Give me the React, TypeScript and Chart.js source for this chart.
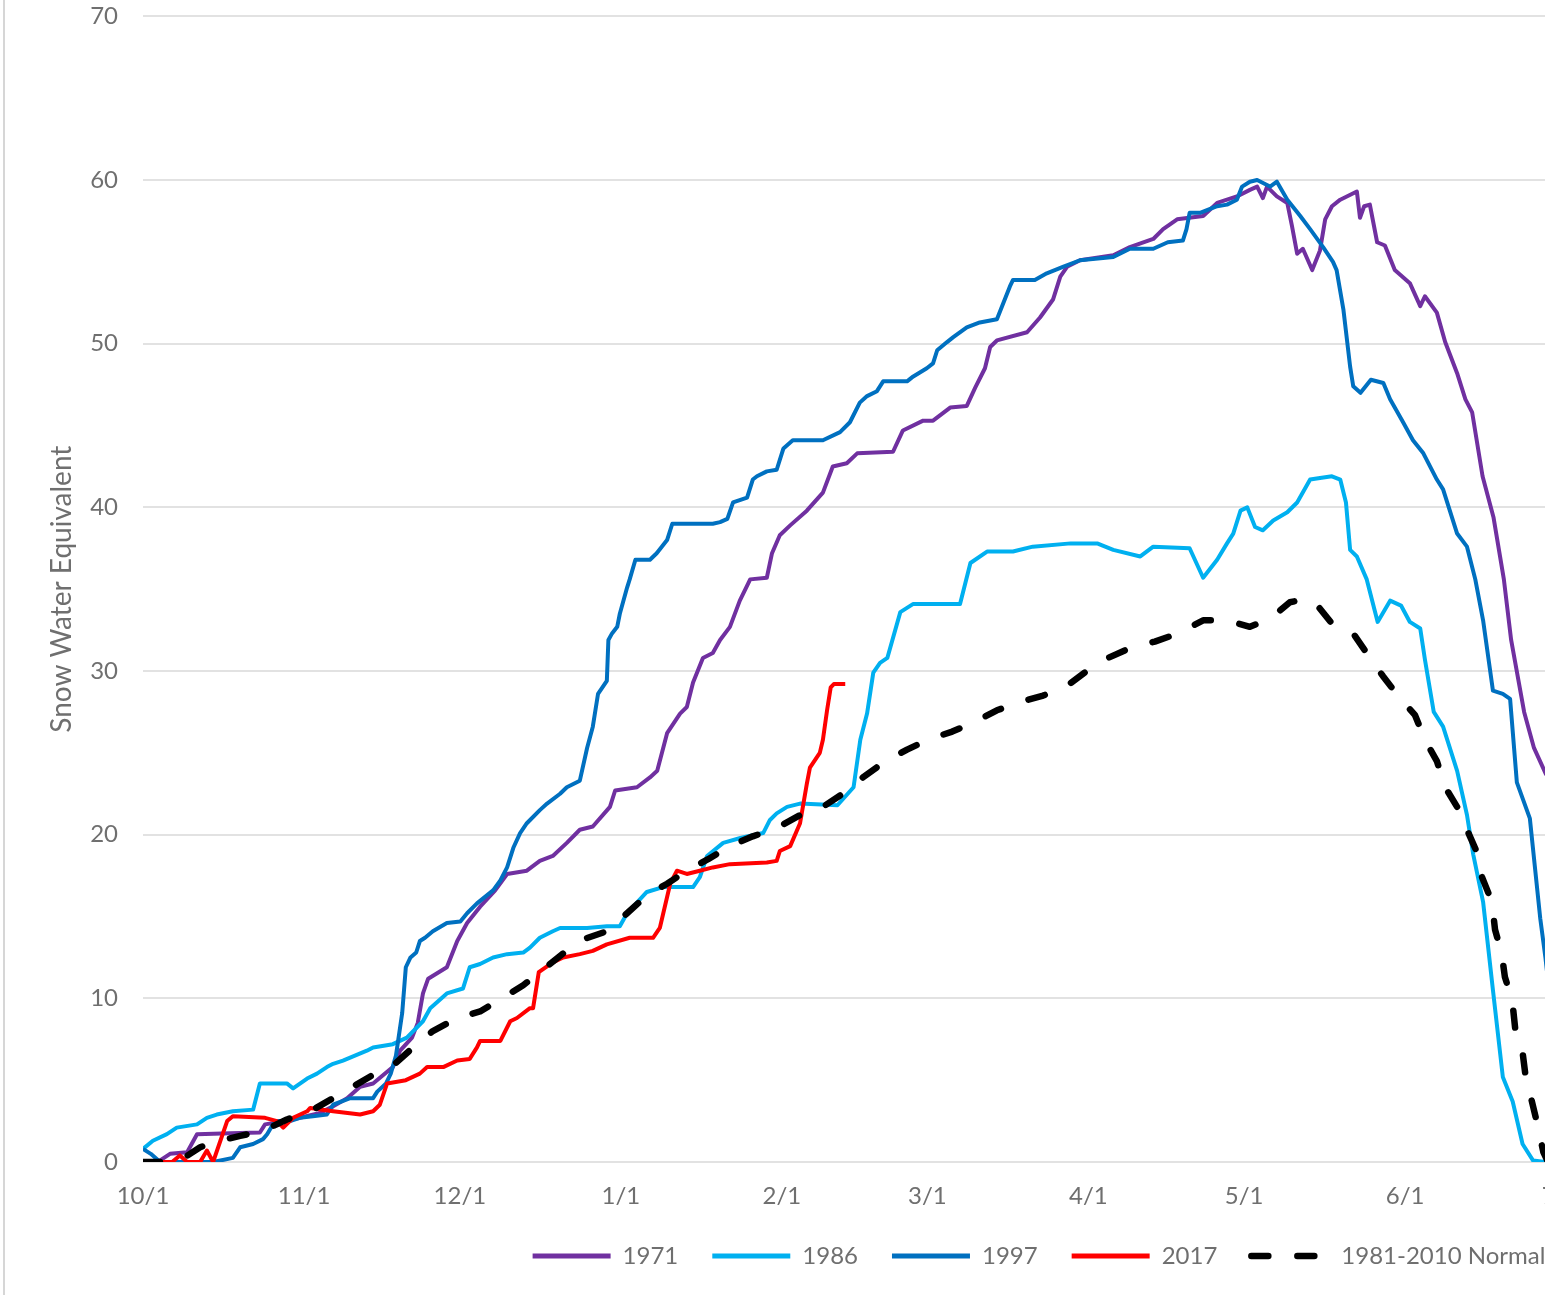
import React, { useEffect, useRef } from 'react';
import { Chart, registerables } from 'chart.js';

Chart.register(...registerables);

// x values are days since Oct 1
const monthStartDays = [0, 31, 61, 92, 123, 151, 182, 212, 243, 273];
const monthLabels = ['10/1', '11/1', '12/1', '1/1', '2/1', '3/1', '4/1', '5/1', '6/1', '7/1'];

const seriesLabels = ['1971', '1986', '1997', '2017', '1981-2010 Normal'];
const seriesColors = ['#7030A0', '#00B0F0', '#0070C0', '#FF0000', '#000000'];

const days1971 = [0, 3.3, 5.2, 8.5, 10.4, 16.8, 22.5, 23.5, 27.3, 30.2, 34.1, 36.6, 39.3, 41.8, 44.3, 48.1, 49.5, 51.8, 52.9, 53.9, 54.9, 58.5, 60.5, 62.4, 64.9, 67.8, 70.1, 73.9, 76.4, 78.9, 81.6, 84.1, 86.6, 89.9, 90.9, 95.1, 97.6, 99, 100.9, 103.4, 104.7, 105.9, 107.8, 109.7, 111.1, 113, 114.9, 116.9, 120.1, 121.1, 122.6, 124.6, 127.8, 130.9, 132.8, 135.5, 137.5, 144.4, 146.3, 150.2, 152.1, 155.4, 158.6, 160.2, 162.1, 163.1, 164.4, 170.2, 172.7, 175.2, 176.6, 177.9, 180.4, 186.8, 190, 194.5, 196.4, 199.1, 204.1, 206.8, 210.6, 213.1, 214.5, 215.6, 216.4, 218.3, 220.3, 221.2, 222.2, 223.3, 225.1, 226.6, 227.6, 228.9, 230.5, 233.7, 234.3, 235.1, 236.2, 237.6, 239.1, 241, 243.9, 245.9, 246.8, 249.1, 250.7, 253, 254.6, 255.9, 257.9, 260, 262, 263.4, 265.9, 267.8, 270.1, 273];
const swe1971 = [0, 0.1, 0.5, 0.6, 1.7, 1.75, 1.8, 2.3, 2.5, 2.7, 3.0, 3.4, 3.9, 4.6, 4.8, 5.8, 6.8, 7.6, 8.5, 10.3, 11.2, 11.9, 13.5, 14.6, 15.6, 16.6, 17.6, 17.8, 18.4, 18.7, 19.5, 20.3, 20.5, 21.7, 22.7, 22.9, 23.5, 23.9, 26.2, 27.4, 27.8, 29.3, 30.8, 31.1, 31.9, 32.7, 34.3, 35.6, 35.7, 37.2, 38.3, 38.9, 39.8, 40.9, 42.5, 42.7, 43.3, 43.4, 44.7, 45.3, 45.3, 46.1, 46.2, 47.3, 48.5, 49.8, 50.2, 50.7, 51.6, 52.7, 54.1, 54.7, 55.1, 55.4, 55.9, 56.4, 57.0, 57.6, 57.8, 58.6, 59.0, 59.4, 59.6, 58.9, 59.6, 59.0, 58.6, 57.2, 55.5, 55.8, 54.5, 55.7, 57.6, 58.4, 58.8, 59.3, 57.7, 58.4, 58.5, 56.2, 56.0, 54.5, 53.7, 52.3, 52.9, 51.9, 50.1, 48.2, 46.6, 45.8, 41.9, 39.4, 35.6, 31.9, 27.5, 25.3, 23.7, 22.5];

const days1986 = [0, 1.9, 4.6, 6.5, 10.4, 12.3, 14.2, 17.3, 21.2, 22.5, 27.7, 28.9, 31.6, 33.5, 35.4, 36.6, 38.5, 43.1, 44.3, 48.1, 50.8, 53.9, 55.3, 58.5, 61.6, 62.9, 64.9, 67.4, 70.1, 73.2, 74.5, 76.4, 78.9, 80.3, 85.5, 89.3, 91.8, 93.2, 97, 100.1, 105.9, 107.2, 108.6, 111.7, 115, 119.4, 120.7, 122, 124, 126.5, 133.7, 136.8, 138.1, 139.4, 140.6, 141.9, 143.3, 145.8, 148.3, 157.3, 159.3, 162.5, 167.5, 171.3, 178.6, 183.7, 186.8, 192, 194.5, 201.5, 204.1, 206.8, 208.7, 209.9, 211.3, 212.6, 214.1, 215.6, 217.6, 220.3, 222.2, 224.7, 226.6, 228.9, 230.5, 231.6, 232.4, 233.7, 235.6, 237.7, 240.1, 242.2, 243.9, 245.9, 246.8, 248.5, 250.3, 253, 254.9, 256.1, 258, 259.9, 261.8, 263.7, 265.6, 267.6, 270, 273];
const swe1986 = [0.8, 1.3, 1.7, 2.1, 2.3, 2.7, 2.9, 3.1, 3.2, 4.8, 4.8, 4.5, 5.1, 5.4, 5.8, 6.0, 6.2, 6.8, 7.0, 7.2, 7.6, 8.6, 9.4, 10.3, 10.6, 11.9, 12.1, 12.5, 12.7, 12.8, 13.1, 13.7, 14.1, 14.3, 14.3, 14.4, 14.4, 15.2, 16.5, 16.8, 16.8, 17.4, 18.7, 19.5, 19.8, 20.1, 20.9, 21.3, 21.7, 21.9, 21.8, 22.9, 25.8, 27.4, 29.9, 30.5, 30.8, 33.6, 34.1, 34.1, 36.6, 37.3, 37.3, 37.6, 37.8, 37.8, 37.4, 37.0, 37.6, 37.5, 35.7, 36.8, 37.8, 38.4, 39.8, 40.0, 38.8, 38.6, 39.2, 39.7, 40.3, 41.7, 41.8, 41.9, 41.7, 40.3, 37.4, 37.0, 35.6, 33.0, 34.3, 34.0, 33.0, 32.6, 30.7, 27.5, 26.6, 23.9, 21.2, 18.8, 15.9, 10.5, 5.2, 3.7, 1.1, 0.1, 0, 0];

const days1997 = [0, 1.5, 3.3, 13.5, 17.3, 18.7, 21.2, 23.1, 23.9, 25.4, 28.3, 30.2, 32.7, 35.4, 36.6, 39.9, 44.3, 45.1, 46.8, 47.7, 48.7, 49.9, 50.6, 51.5, 52.6, 53.3, 54.3, 55.8, 58.5, 61.1, 62.4, 64.3, 67.4, 68.8, 70.1, 71.3, 72.6, 73.9, 76.4, 77.8, 80.3, 81.6, 84.1, 85.5, 86.6, 87.6, 89.3, 89.6, 90.3, 91.3, 91.8, 93.2, 93.7, 94.8, 97.6, 98.9, 100.9, 101.9, 109.7, 111.1, 112.5, 113.6, 116.3, 117.4, 118.2, 120.1, 122, 123.3, 125.1, 130.9, 134.2, 136.1, 138, 139.4, 141.3, 142.5, 147.1, 148.3, 150.9, 152.1, 152.9, 154.8, 156, 158.6, 161.1, 164.4, 166.9, 167.5, 171.7, 174, 177.1, 180.4, 186.8, 190, 194.5, 197.3, 200.2, 200.9, 201.5, 203.5, 206.8, 208.7, 210.6, 211.6, 213.1, 214.5, 216.4, 217, 218.3, 220.3, 222.8, 224.7, 227.2, 229.1, 229.8, 231.1, 232.4, 233, 234.4, 236.4, 238.8, 240.1, 242.6, 244.5, 246.5, 249.1, 250.3, 253, 254.9, 256.5, 258, 259.9, 261.8, 263.2, 264.5, 267, 269, 270, 273];
const swe1997 = [0.8, 0.5, 0, 0, 0.25, 0.9, 1.1, 1.4, 1.7, 2.5, 2.5, 2.7, 2.8, 2.9, 3.5, 3.9, 3.9, 4.3, 4.8, 5.4, 6.5, 9.1, 11.9, 12.5, 12.8, 13.5, 13.7, 14.1, 14.6, 14.7, 15.2, 15.8, 16.6, 17.2, 18.0, 19.2, 20.1, 20.7, 21.5, 21.9, 22.5, 22.9, 23.3, 25.3, 26.6, 28.6, 29.4, 31.9, 32.3, 32.7, 33.5, 35.1, 35.6, 36.8, 36.8, 37.2, 38.0, 39.0, 39.0, 39.1, 39.3, 40.3, 40.6, 41.7, 41.9, 42.2, 42.3, 43.6, 44.1, 44.1, 44.6, 45.2, 46.4, 46.8, 47.1, 47.7, 47.7, 48.0, 48.5, 48.8, 49.6, 50.1, 50.4, 51.0, 51.3, 51.5, 53.5, 53.9, 53.9, 54.3, 54.7, 55.1, 55.3, 55.8, 55.8, 56.2, 56.3, 57.0, 58.0, 58.0, 58.4, 58.5, 58.8, 59.6, 59.9, 60.0, 59.7, 59.6, 59.9, 58.8, 57.8, 57.0, 55.9, 55.0, 54.5, 52.1, 48.6, 47.4, 47.0, 47.8, 47.6, 46.6, 45.2, 44.1, 43.3, 41.7, 41.1, 38.4, 37.6, 35.6, 33.1, 28.8, 28.6, 28.3, 23.2, 21.0, 14.9, 12.5, 4.0];

const days2017 = [0, 5.6, 7.1, 8.5, 11, 12.3, 13.5, 16.2, 17.3, 23.5, 25.8, 27, 28.9, 31.6, 32.2, 36.6, 41.8, 44.3, 45.6, 47, 50.6, 53.3, 54.7, 57.8, 60.5, 62.9, 64.3, 64.9, 68.8, 70.7, 72, 74.5, 75.1, 76.2, 78.9, 80.9, 84.1, 86.6, 89.3, 93.7, 98.2, 99.5, 101.5, 102.8, 104.7, 107.2, 109.7, 113, 120.1, 122, 122.6, 124.6, 126.5, 127.8, 128.4, 130.3, 130.9, 131.7, 132.4, 133, 135.2];
const swe2017 = [0, 0, 0.4, 0, 0, 0.7, 0, 2.5, 2.8, 2.7, 2.5, 2.1, 2.7, 3.1, 3.3, 3.1, 2.9, 3.1, 3.5, 4.8, 5.0, 5.4, 5.8, 5.8, 6.2, 6.3, 7.0, 7.4, 7.4, 8.6, 8.8, 9.4, 9.4, 11.6, 12.2, 12.5, 12.7, 12.9, 13.3, 13.7, 13.7, 14.3, 17.0, 17.8, 17.6, 17.8, 18.0, 18.2, 18.3, 18.4, 19.0, 19.3, 20.7, 23.1, 24.1, 25.0, 25.8, 27.6, 29.0, 29.2, 29.2];

const daysNormal = [0, 5.2, 8.1, 11, 13.5, 18.7, 23.1, 27.7, 32.2, 36.6, 40.4, 44.7, 48.5, 52, 55.8, 60.5, 64.9, 69.1, 73.2, 76.8, 80.7, 84.7, 89.3, 93.2, 97, 100.9, 104.7, 108.8, 113, 117.4, 122, 126.5, 130.9, 135.2, 138.6, 142.5, 147.1, 151.1, 155.8, 160.2, 164.4, 168.8, 173.3, 177.9, 181.7, 185.8, 190, 194.8, 199.3, 204.1, 208.7, 213.1, 217, 220.8, 223.7, 225.6, 228.9, 233, 235.8, 238.7, 241.6, 244.9, 246.8, 249.1, 250.7, 253, 254.9, 257, 257.8, 259.7, 260.3, 261.6, 262.2, 263.6, 264.2, 265.6, 266.2, 267.4, 268.6, 269.6, 270.5];
const sweNormal = [0, 0, 0.3, 0.9, 1.2, 1.6, 1.9, 2.6, 3.1, 3.9, 4.6, 5.4, 6.0, 7.0, 8.0, 8.8, 9.2, 10.0, 10.8, 11.7, 12.7, 13.6, 14.1, 15.2, 16.3, 17.0, 17.8, 18.5, 19.3, 19.9, 20.4, 21.2, 21.7, 22.6, 23.5, 24.4, 25.2, 25.8, 26.3, 26.9, 27.6, 28.1, 28.5, 29.1, 30.0, 30.8, 31.4, 31.8, 32.3, 33.1, 33.1, 32.7, 33.2, 34.2, 34.4, 34.2, 32.9, 32.3, 31.0, 29.7, 28.5, 27.3, 25.8, 24.5, 22.9, 21.7, 20.3, 18.8, 17.4, 15.9, 14.2, 12.7, 11.3, 9.9, 8.1, 6.7, 5.2, 3.7, 2.1, 0.6, 0];

const seriesDays = [days1971, days1986, days1997, days2017, daysNormal];
const seriesValues = [swe1971, swe1986, swe1997, swe2017, sweNormal];

const FONT = 'Lato, "Open Sans", sans-serif';
const TEXT = '#6f6f6f';
const GRID = '#e2e2e2';

export default function App() {
  const ref = useRef<HTMLCanvasElement | null>(null);

  useEffect(() => {
    const canvas = ref.current;
    if (!canvas) return;
    const datasets = seriesLabels.map((label, i) => {
      const isNormal = i === 4;
      return {
        label,
        data: seriesDays[i].map((d, k) => ({ x: d, y: seriesValues[i][k] })),
        borderColor: seriesColors[i],
        backgroundColor: seriesColors[i],
        borderWidth: isNormal ? 6.5 : 4,
        borderDash: isNormal ? [17, 29] : undefined,
        borderCapStyle: isNormal ? 'round' : 'butt',
        borderJoinStyle: 'round',
        pointRadius: 0,
        tension: 0,
        fill: false,
        order: 4 - i,
      };
    });

    const chart = new Chart(canvas, {
      type: 'line',
      data: { datasets: datasets as any },
      options: {
        animation: false,
        responsive: false,
        events: [],
        layout: { padding: { top: 17, left: 0, right: 0, bottom: 0 } },
        scales: {
          x: {
            type: 'linear',
            min: 0,
            max: 273,
            grid: { display: false, drawTicks: false },
            border: { display: false },
            afterBuildTicks: (s: any) => {
              s.ticks = monthStartDays.map((v) => ({ value: v }));
            },
            afterFit: (s: any) => {
              s.height = 48;
            },
            ticks: {
              autoSkip: false,
              maxRotation: 0,
              minRotation: 0,
              padding: 20,
              color: TEXT,
              font: { family: FONT, size: 24 },
              callback: (v: any) => {
                const idx = monthStartDays.indexOf(Number(v));
                return idx >= 0 ? monthLabels[idx] : '';
              },
            },
          },
          y: {
            type: 'linear',
            position: 'left',
            min: 0,
            max: 70,
            grid: { color: GRID, lineWidth: 2, drawTicks: false },
            border: { display: false },
            afterFit: (s: any) => {
              s.width = 143;
            },
            ticks: {
              stepSize: 10,
              padding: 25,
              color: TEXT,
              font: { family: FONT, size: 24 },
            },
            title: {
              display: true,
              text: 'Snow Water Equivalent',
              color: TEXT,
              font: { family: FONT, size: 28 },
              padding: { top: 45, bottom: 0 },
            },
          },
          yRight: {
            type: 'linear',
            position: 'right',
            display: true,
            grid: { display: false, drawTicks: false },
            border: { display: false },
            ticks: { display: false },
            afterFit: (s: any) => {
              s.width = 517;
            },
          },
        },
        plugins: {
          tooltip: { enabled: false },
          legend: {
            display: true,
            position: 'bottom',
            align: 'center',
            labels: {
              usePointStyle: true,
              pointStyleWidth: 78,
              padding: 34,
              color: TEXT,
              font: { family: FONT, size: 24 },
              generateLabels: (c: any) =>
                c.data.datasets.map((ds: any, i: number) => ({
                  text: ds.label,
                  fillStyle: ds.borderColor,
                  strokeStyle: ds.borderColor,
                  fontColor: TEXT,
                  lineWidth: ds.borderDash ? 6.5 : 5,
                  lineDash: ds.borderDash || [],
                  lineCap: ds.borderDash ? 'round' : 'butt',
                  pointStyle: 'line',
                  hidden: false,
                  datasetIndex: i,
                })),
            },
          },
        },
      } as any,
    });
    return () => chart.destroy();
  }, []);

  return (
    <div
      style={{
        position: 'fixed',
        left: 0,
        top: 0,
        width: 1545,
        height: 1295,
        overflow: 'hidden',
        background: '#ffffff',
      }}
    >
      <canvas ref={ref} width={2078} height={1301} style={{ display: 'block', position: 'absolute', left: 0, top: -23 }} />
      <div style={{ position: 'absolute', left: 3, top: 0, width: 2, height: 1295, background: '#d6d6d6' }} />
    </div>
  );
}
